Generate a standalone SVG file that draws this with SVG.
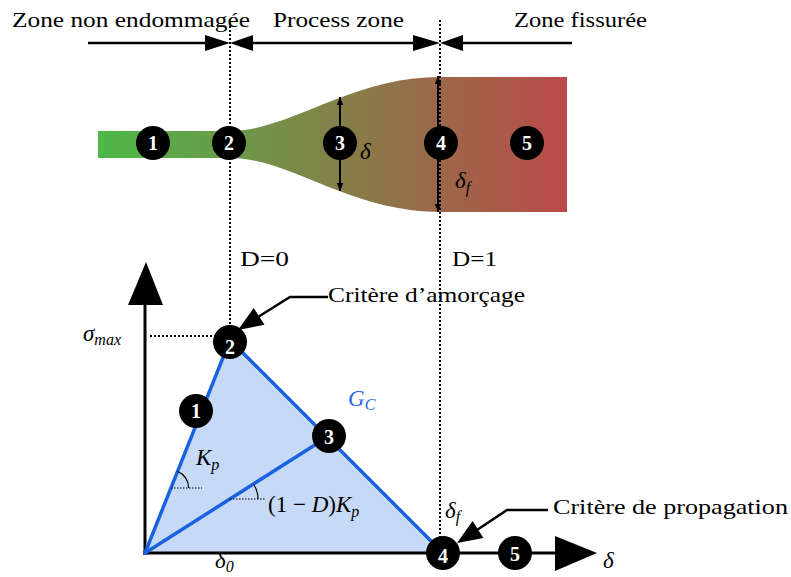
<svg xmlns="http://www.w3.org/2000/svg" width="791" height="577" viewBox="0 0 791 577">
<defs>
<linearGradient id="band" x1="98" y1="0" x2="567" y2="0" gradientUnits="userSpaceOnUse">
<stop offset="0" stop-color="#4cb848"/>
<stop offset="1" stop-color="#ba4a4a"/>
</linearGradient>
<marker id="sa" viewBox="0 0 10 8" refX="10" refY="4" markerWidth="8" markerHeight="7" markerUnits="userSpaceOnUse" orient="auto-start-reverse">
<path d="M0,0 L10,4 L0,8 Z" fill="#000"/>
</marker>
</defs>
<style>
text{font-family:"Liberation Serif","DejaVu Serif",serif;fill:#000}
.lbl{font-size:22px}
.m{font-style:italic;font-size:23px}
.up{font-style:normal}
.sub{font-style:italic;font-size:16px}
.num{font-weight:bold;font-size:20px;fill:#fff;text-anchor:middle}
.dot{stroke:#000;stroke-width:2;stroke-dasharray:2 2;fill:none}
.fdot{stroke:#000;stroke-width:1;stroke-dasharray:1.5 1.5;fill:none}
.blue{stroke:#1b62e0;stroke-width:3.5;fill:none;stroke-linecap:round}
.ax{stroke:#000;stroke-width:3;fill:none}
.thin{stroke:#000;stroke-width:2.5;fill:none}
</style>

<g id="band-shape">
<path d="M98,131 H230 C290,131 350,77 440,77 H567 V212 H440 C350,212 290,158 230,158 H98 Z" fill="url(#band)"/>
</g>

<g id="zone-labels">
<text class="lbl" x="12" y="27" textLength="238" lengthAdjust="spacingAndGlyphs">Zone non endommagée</text>
<text class="lbl" x="273" y="27" textLength="131" lengthAdjust="spacingAndGlyphs">Process zone</text>
<text class="lbl" x="514" y="27" textLength="133" lengthAdjust="spacingAndGlyphs">Zone fissurée</text>
</g>

<g id="connectors">
<line class="dot" x1="230" y1="22" x2="230" y2="553"/>
<line class="dot" x1="440" y1="20" x2="440" y2="553"/>
<line x1="88" y1="43" x2="206" y2="43" stroke="#000" stroke-width="2.5"/>
<line x1="252" y1="43" x2="414" y2="43" stroke="#000" stroke-width="2.5"/>
<line x1="462" y1="43" x2="572" y2="43" stroke="#000" stroke-width="2.5"/>
<path d="M205,35 L230,43 L205,51 Z M253,35 L230,43 L253,51 Z" fill="#000"/>
<path d="M413,35 L440,43 L413,51 Z M463,35 L440,43 L463,51 Z" fill="#000"/>
<line x1="340" y1="97" x2="340" y2="191" stroke="#000" stroke-width="2" marker-start="url(#sa)" marker-end="url(#sa)"/>
<line x1="438" y1="76" x2="438" y2="212" stroke="#000" stroke-width="2" marker-start="url(#sa)" marker-end="url(#sa)"/>
</g>

<g id="top-nodes">
<g id="t1"><circle cx="153" cy="143" r="17" fill="#000"/><text class="num" x="153" y="150">1</text></g>
<g id="t2"><circle cx="229" cy="143" r="17" fill="#000"/><text class="num" x="229" y="150">2</text></g>
<g id="t3"><circle cx="340" cy="143" r="17" fill="#000"/><text class="num" x="340" y="150">3</text></g>
<g id="t4"><circle cx="441" cy="143" r="17" fill="#000"/><text class="num" x="441" y="150">4</text></g>
<g id="t5"><circle cx="527" cy="143" r="17" fill="#000"/><text class="num" x="527" y="150">5</text></g>
<text class="m" x="360" y="159">δ</text>
<text class="m" x="455" y="188">δ<tspan class="sub" dy="5">f</tspan></text>
</g>

<g id="damage-labels">
<text class="lbl" x="240" y="266" textLength="49" lengthAdjust="spacingAndGlyphs">D=0</text>
<text class="lbl" x="452" y="266" textLength="45" lengthAdjust="spacingAndGlyphs">D=1</text>
</g>

<g id="law">
<polygon points="145,553 230,340 445,553" fill="#c6d9f6"/>
<line class="ax" x1="145" y1="555" x2="145" y2="300"/>
<path d="M146,262 L163,305 L128,305 Z" fill="#000"/>
<line class="ax" x1="143" y1="553" x2="560" y2="553"/>
<path d="M597,553 L555,536 L555,571 Z" fill="#000"/>
<line class="dot" x1="150" y1="336" x2="216" y2="336"/>
<polyline class="blue" points="145,553 230,340 443,553"/>
<line class="blue" x1="145" y1="553" x2="329" y2="436"/>
<line class="fdot" x1="171" y1="488" x2="202" y2="488"/>
<path d="M177.4,471.3 A18,18 0 0 1 188.7,488" fill="none" stroke="#000" stroke-width="1.2"/>
<line class="fdot" x1="230" y1="499" x2="265" y2="499"/>
<path d="M253.7,484.2 A28,28 0 0 1 258,499" fill="none" stroke="#000" stroke-width="1.2"/>
<text class="m" x="83" y="341">σ<tspan class="sub" dy="4">max</tspan></text>
<text class="m" x="348" y="406" style="fill:#2a6ae0">G<tspan class="sub" dy="4" style="fill:#2a6ae0">C</tspan></text>
<text class="m" x="196" y="465">K<tspan class="sub" dy="5">p</tspan></text>
<text class="m" x="268" y="512"><tspan class="up">(1 − </tspan>D<tspan class="up">)</tspan>K<tspan class="sub" dy="5">p</tspan></text>
<text class="m" x="215" y="568">δ<tspan class="sub" dy="4">0</tspan></text>
<text class="m" x="445" y="518">δ<tspan class="sub" dy="4">f</tspan></text>
<text class="m" x="603" y="568">δ</text>
</g>

<g id="criteria">
<polyline class="thin" points="328,297 290,297 258,317"/>
<path d="M238,330 L264.5,324.8 L253.7,308 Z" fill="#000"/>
<text class="lbl" x="328" y="302" textLength="197" lengthAdjust="spacingAndGlyphs">Critère d’amorçage</text>
<polyline class="thin" points="548,510 507,510 477,530"/>
<path d="M457,543 L483.4,537.9 L472.6,521.1 Z" fill="#000"/>
<text class="lbl" x="553" y="514" textLength="235" lengthAdjust="spacingAndGlyphs">Critère de propagation</text>
</g>

<g id="law-nodes">
<g id="b1"><circle cx="196" cy="411" r="17" fill="#000"/><text class="num" x="196" y="418">1</text></g>
<g id="b2"><circle cx="230" cy="342" r="17" fill="#000"/><text class="num" x="230" y="354">2</text></g>
<g id="b3"><circle cx="329" cy="436" r="17" fill="#000"/><text class="num" x="329" y="444">3</text></g>
<g id="b4"><circle cx="443" cy="553" r="17" fill="#000"/><text class="num" x="443" y="563">4</text></g>
<g id="b5"><circle cx="515" cy="553" r="17" fill="#000"/><text class="num" x="515" y="561">5</text></g>
</g>
</svg>
